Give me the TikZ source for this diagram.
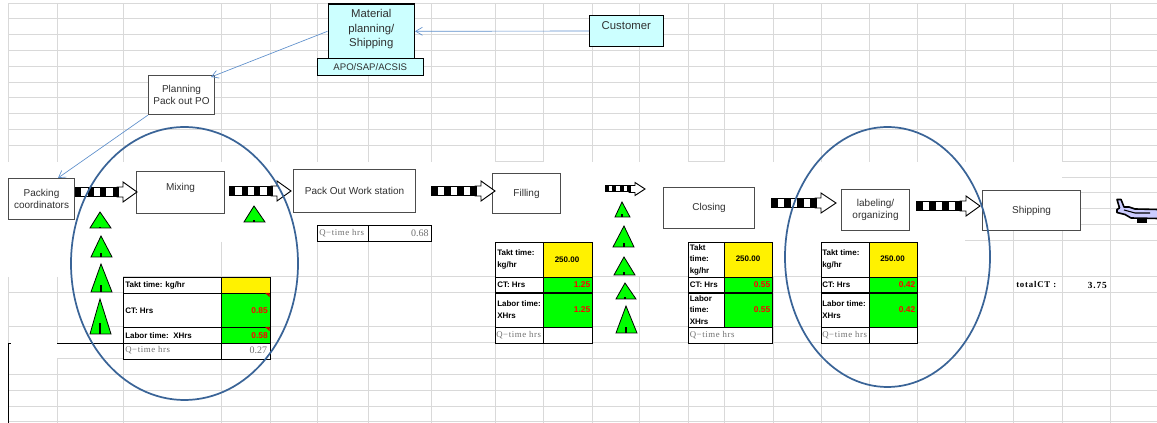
\documentclass[tikz,border=0pt]{standalone}
\usepackage{fontspec}
\setmainfont{Liberation Sans}
\newfontfamily\qfont[LetterSpace=7]{Liberation Serif}
\newfontfamily\vfont{Liberation Serif}
\newfontfamily\totfont[LetterSpace=9]{Liberation Serif}
\definecolor{gridc}{HTML}{D9D9D9}
\definecolor{txt}{HTML}{303030}
\definecolor{cyanbox}{HTML}{CCFFFF}
\definecolor{linkc}{HTML}{5E8FCB}
\definecolor{ringc}{HTML}{3A6497}
\definecolor{qc}{HTML}{707070}
\definecolor{planec}{HTML}{CCCCFF}
\usetikzlibrary{arrows.meta,positioning}
\tikzset{
  gridline/.style={draw=gridc,line width=0.75pt},
  procbox/.style={draw=black!70,line width=0.8pt,fill=white,text=txt,align=center,font=\fontsize{7.5}{9.5}\selectfont,inner sep=0pt},
  cyanbig/.style={procbox,draw=black,fill=cyanbox,font=\fontsize{8.5}{10.9}\selectfont},
  link/.style={draw=linkc,line width=0.5pt,-{Straight Barb[length=5pt,width=6pt,line width=0.5pt]}},
  ring/.style={draw=ringc,line width=1.3pt},
  cell/.style={draw=black,line width=0.8pt,inner sep=0pt},
  tbl/.style={text=black,inner sep=0pt,align=left,font=\bfseries\fontsize{6}{8}\selectfont},
  redv/.style={font=\bfseries\fontsize{6.3}{8}\selectfont,text=red},
  tri/.style={draw=black,line width=0.6pt,fill=green,line join=miter},
  pushhead/.style={draw=black,line width=0.7pt,fill=white},
}
% box by edges: name, x1,y1,x2,y2, style, text
\newcommand{\bx}[7]{\node[#6,minimum width={(#4-#2)*0.75pt},minimum height={(#5-#3)*0.75pt},anchor=north west] (#1) at (#2,#3) {#7};}
% striped push arrow: x1, xh, x2, y, half bar, half head
\newcommand{\pusharrow}[6]{%
  \draw[pushhead] (#2,#4-#5) -- (#2,#4-#6) -- (#3,#4) -- (#2,#4+#6) -- (#2,#4+#5) -- (#2-6,#4+#5) -- (#2-6,#4-#5) -- cycle;
  \fill[black] (#1,#4-#5) rectangle (#2-4,#4+#5);
  \foreach \k in {1,3,5}{
    \fill[white] ({#1+(#2-4-#1)*\k/7},#4-#5+1) rectangle ({#1+(#2-4-#1)*(\k+1)/7},#4+#5-1);
  }
}
% triangle: apex x,y; base y; tick top; left, right
\newcommand{\tr}[6]{%
  \draw[tri] (#1,#2) -- (#5,#3) -- (#6,#3) -- cycle;
  \draw[black,line width=0.8pt] (#1,#3) -- (#1,#4);
}
\newcommand{\qtext}{\qfont\fontsize{6.6}{8}\selectfont\color{qc}Q−time hrs}
\begin{document}
\begin{tikzpicture}[x=0.75pt,y=-0.75pt]
\useasboundingbox (0,0) rectangle (1157,423);
% spreadsheet grid, upper part
\foreach \y in {4,19,35,51,67,82.5,98,114,130,146}{\draw[gridline] (8,\y) -- (1157,\y);}
\foreach \x in {8,57,123,221,270,317,368,431,495,543,592,639,688,724,773,821,869,917,965,1013,1062,1110}{\draw[gridline] (\x,4) -- (\x,162);}
\draw[gridline] (495,162) -- (543,162);
\draw[gridline] (688,162) -- (724,162);
\draw[gridline] (1062,162) -- (1157,162);
\draw[gridline] (1062,178) -- (1157,178);
\draw[gridline] (1110,162) -- (1110,423);
\foreach \y in {193,209,225}{\draw[gridline] (1080,\y) -- (1157,\y);}
% spreadsheet grid, lower part
\draw[gridline] (123,277) -- (1157,277);
\foreach \y in {292.5,327,375,391,407,422}{\draw[gridline] (8,\y) -- (1157,\y);}
\draw[gridline] (123,343) -- (1157,343);
\draw[gridline] (57,359) -- (1157,359);
\draw[gridline] (8,277) -- (8,343);
\draw[gridline] (57,277) -- (57,343);
\draw[gridline] (57,359) -- (57,423);
\foreach \x in {123,270,592,639,688,724,773,821,869,917,965}{\draw[gridline] (\x,277) -- (\x,423);}
\foreach \x in {221,317,368,431,495,543}{\draw[gridline] (\x,242) -- (\x,423);}
\draw[gridline] (965,241) -- (1157,241);
\foreach \x in {1013,1062}{\draw[gridline] (\x,231) -- (\x,423);}
% lower-left black frame
\draw[black,line width=0.7pt] (8.5,343) -- (8.5,423);
\draw[black,line width=0.7pt] (8.5,343) -- (10.5,343);
\draw[black,line width=0.7pt] (57,343) -- (123,343);

% process boxes
\bx{matl}{327.5}{3.5}{414}{58}{cyanbig}{Material\\planning/\\Shipping\\[-6.5pt]\mbox{}}
\bx{apo}{317}{58}{422.5}{75}{cyanbig,font=\fontsize{7.2}{9}\selectfont}{APO/SAP/ACSIS}
\bx{cust}{589}{15}{662.5}{46}{cyanbig,text depth=8pt}{Customer}
\bx{plan}{148}{75}{214}{114}{procbox}{Planning\\Pack out PO}
\bx{pack}{8}{178}{74}{219}{procbox}{Packing\\coordinators}
\bx{mix}{136}{171}{224}{213}{procbox,text depth=8pt}{Mixing}
\bx{work}{293}{169}{415}{212}{procbox}{Pack Out Work station}
\bx{fill}{492}{173}{560}{213}{procbox}{Filling}
\bx{clos}{663}{187}{754}{228}{procbox}{Closing}
\bx{labl}{841}{189}{909}{230}{procbox}{labeling/\\organizing}
\bx{ship}{982}{190}{1080}{230}{procbox}{Shipping}

% information links
\coordinate (packin) at (58,178);
\coordinate (planin) at (211,77);
\draw[link] (cust.west) -- (matl.east);
\draw[link] (matl.west) -- (planin);
\draw[link] (plan.south west) -- (packin);

% striped push arrows
\pusharrow{75}{123}{137}{192}{5}{10}
\pusharrow{229}{277}{291}{191}{5}{10}
\pusharrow{431}{481}{495}{191}{5}{10}
\pusharrow{605}{635}{645}{189}{3.5}{6.5}
\pusharrow{771}{821}{836}{203}{5}{10}
\pusharrow{916}{966}{980}{206}{5}{10}

% inventory triangles
\tr{100}{212}{228}{227}{90}{111}
\tr{101}{236}{257}{253}{91}{112}
\tr{101}{264}{292}{285}{91}{112}
\tr{100}{299}{334}{323}{90}{111}
\tr{254}{206}{222}{220}{244}{265}
\tr{622}{202}{217}{214}{615}{630}
\tr{624}{226}{247}{243}{613}{634}
\tr{624}{257}{275}{272}{614}{635}
\tr{625}{283}{299}{297}{616}{636}
\tr{626}{306}{333}{327}{616}{637}

% Mixing table
\bx{ma}{123}{277}{221}{293}{cell,fill=white}{}
\bx{mb}{221}{277}{270}{293}{cell,fill=yellow}{}
\bx{mc}{123}{293}{221}{327}{cell,fill=white}{}
\bx{md}{221}{293}{270}{327}{cell,fill=green}{}
\bx{me}{123}{327}{221}{343}{cell,fill=white}{}
\bx{mf}{221}{327}{270}{343}{cell,fill=green}{}
\bx{mg}{123}{343}{221}{359}{cell,fill=white}{}
\bx{mh}{221}{343}{270}{359}{cell,fill=white}{}
\node[tbl,anchor=west] at (125,285) {Takt time: kg/hr};
\node[tbl,anchor=west] at (125,310.5) {CT: Hrs};
\node[tbl,anchor=west] at (125,335.5) {Labor time:\ \ XHrs};
\node[anchor=west,inner sep=0pt] at (125,350.5) {\qtext};
\node[redv,anchor=east,inner sep=0pt] at (268,311) {0.85};
\node[redv,anchor=east,inner sep=0pt] at (268,336) {0.58};
\node[anchor=east,inner sep=0pt,text=qc,font=\vfont\fontsize{7.5}{9}\selectfont] at (267.5,350.5) {0.27};
\fill[red!80!black] (265,293) -- (269.5,293) -- (269.5,297) -- cycle;
\fill[red!80!black] (265,327) -- (269.5,327) -- (269.5,331) -- cycle;

% Q-time table under the work station
\bx{qa}{317}{225}{368}{241}{cell,fill=white}{}
\bx{qb}{368}{225}{431}{241}{cell,fill=white}{}
\node[anchor=west,inner sep=0pt] at (319,233) {\qtext};
\node[anchor=east,inner sep=0pt,text=qc,font=\vfont\fontsize{7.5}{9}\selectfont] at (429,233) {0.68};

% Filling table
\bx{fa}{495}{242}{543}{277}{cell,fill=white}{}
\bx{fb}{543}{242}{592}{277}{cell,fill=yellow}{}
\bx{fc}{495}{277}{543}{292.5}{cell,fill=white}{}
\bx{fd}{543}{277}{592}{292.5}{cell,fill=green}{}
\bx{fe}{495}{292.5}{543}{327}{cell,fill=white}{}
\bx{ff}{543}{292.5}{592}{327}{cell,fill=green}{}
\bx{fg}{495}{327}{543}{343}{cell,fill=white}{}
\bx{fh}{543}{327}{592}{343}{cell,fill=white}{}
\node[tbl,anchor=west,font=\bfseries\fontsize{6}{9}\selectfont] at (497,259.5) {Takt time:\\kg/hr};
\node[tbl,anchor=center] at (567,259.5) {250.00};
\node[tbl,anchor=west] at (497,285) {CT: Hrs};
\node[tbl,anchor=west,font=\bfseries\fontsize{6}{9}\selectfont] at (497,310) {Labor time:\\XHrs};
\node[anchor=west,inner sep=0pt] at (496,335) {\qtext};
\node[redv,anchor=east,inner sep=0pt] at (590.5,285) {1.25};
\node[redv,anchor=east,inner sep=0pt] at (590.5,310) {1.25};

% Closing table
\bx{ca}{688}{242}{724}{277}{cell,fill=white}{}
\bx{cb}{724}{242}{772}{277}{cell,fill=yellow}{}
\bx{cc}{688}{277}{724}{292.5}{cell,fill=white}{}
\bx{cd}{724}{277}{772}{292.5}{cell,fill=green}{}
\bx{ce}{688}{292.5}{724}{327}{cell,fill=white}{}
\bx{cf}{724}{292.5}{772}{327}{cell,fill=green}{}
\bx{cg}{688}{327}{772}{343}{cell,fill=white}{}
\node[tbl,anchor=west,font=\bfseries\fontsize{6}{8.6}\selectfont] at (689.5,259.5) {Takt\\time:\\kg/hr};
\node[tbl,anchor=center] at (748,259) {250.00};
\node[tbl,anchor=west] at (689.5,285) {CT: Hrs};
\node[tbl,anchor=west,font=\bfseries\fontsize{6}{8.6}\selectfont] at (689.5,310) {Labor\\time:\\XHrs};
\node[anchor=west,inner sep=0pt] at (689.5,335) {\qtext};
\node[redv,anchor=east,inner sep=0pt] at (770.5,285) {0.55};
\node[redv,anchor=east,inner sep=0pt] at (770.5,310) {0.55};

% Labeling table
\bx{la}{821}{242}{869}{277}{cell,fill=white}{}
\bx{lb}{869}{242}{917}{277}{cell,fill=yellow}{}
\bx{lc}{821}{277}{869}{292.5}{cell,fill=white}{}
\bx{ld}{869}{277}{917}{292.5}{cell,fill=green}{}
\bx{le}{821}{292.5}{869}{327}{cell,fill=white}{}
\bx{lf}{869}{292.5}{917}{327}{cell,fill=green}{}
\bx{lg}{821}{327}{869}{343}{cell,fill=white}{}
\bx{lh}{869}{327}{917}{343}{cell,fill=white}{}
\node[tbl,anchor=west,font=\bfseries\fontsize{6}{9}\selectfont] at (822,259.5) {Takt time:\\kg/hr};
\node[tbl,anchor=center] at (892.5,259) {250.00};
\node[tbl,anchor=west] at (822,285) {CT: Hrs};
\node[tbl,anchor=west,font=\bfseries\fontsize{6}{9}\selectfont] at (822,310) {Labor time:\\XHrs};
\node[anchor=west,inner sep=0pt] at (822,335) {\qtext};
\node[redv,anchor=east,inner sep=0pt] at (915.5,285) {0.42};
\node[redv,anchor=east,inner sep=0pt] at (915.5,310) {0.42};

% total
\node[anchor=west,inner sep=0pt,font=\totfont\bfseries\fontsize{6.6}{8}\selectfont] (tot) at (1016,285) {totalCT :};
\node[anchor=east,inner sep=0pt,font=\totfont\bfseries\fontsize{7}{8}\selectfont] (totv) at (1107,285) {3.75};

% highlight rings
\draw[ring] (184.5,263.5) ellipse [x radius=113.5,y radius=136.5];
\draw[ring] (887.5,257) ellipse [x radius=102.5,y radius=130];

% aeroplane
\draw[fill=black] (1137,217) rectangle (1146,222);
\draw[draw=black,line width=1.2pt,fill=planec,line join=round]
  (1158,209.5) -- (1135,209) -- (1129,207) -- (1124,207) -- (1121,199.5) -- (1117,199.5) -- (1119.5,208) -- (1117,209.5)
  -- (1117,212.5) -- (1125,214.5) -- (1131,218) -- (1158,218.5);
\draw[black,line width=0.8pt] (1124,210) -- (1135,213) -- (1150,213);
\end{tikzpicture}
\end{document}
